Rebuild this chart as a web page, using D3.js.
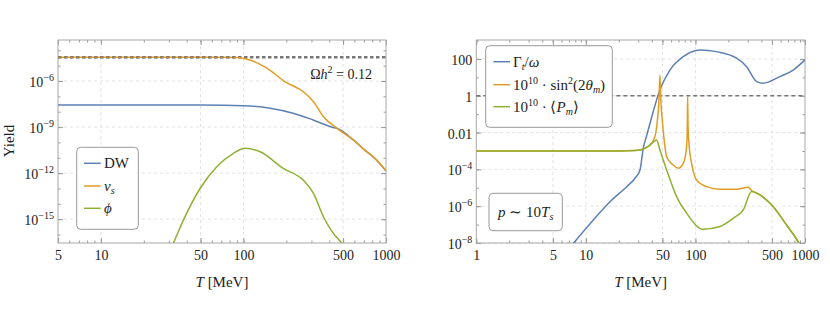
<!DOCTYPE html>
<html>
<head>
<meta charset="utf-8">
<script src="https://cdn.jsdelivr.net/npm/d3@7"></script>
<style>
  body { margin: 0; background: #fff; }
  svg text { font-family: "Liberation Serif", "Times New Roman", serif; }
</style>
</head>
<body>
<script>
// ---- data ----
// left panel: yield vs T [MeV]
var dwT   = [5, 20, 50, 100, 154, 223, 308, 425, 452, 590, 700, 850, 1000];
var dwY   = [2.75e-8, 2.75e-8, 2.7e-8, 2.45e-8, 1.66e-8, 7.9e-9, 2.9e-9, 9.5e-10, 8.3e-10, 1.45e-10, 3.5e-11, 7.9e-12, 1.4e-12];
var nusT  = [5, 60, 90, 111, 146, 196, 263, 310, 364, 452, 590, 700, 850, 1000];
var nusY  = [3.5e-5, 3.5e-5, 3.4e-5, 2.35e-5, 6.8e-6, 8.9e-7, 2.0e-7, 4.5e-8, 4.7e-9, 8.3e-10, 1.45e-10, 3.5e-11, 7.9e-12, 1.4e-12];
var phiT  = [28, 32.2, 37.9, 49.6, 65, 85, 102.6, 131, 190, 263, 310, 364, 427, 490, 560];
var phiY  = [1.6e-18, 2.7e-17, 8.7e-16, 1.0e-13, 2.6e-12, 1.95e-11, 4.2e-11, 2.45e-11, 2.05e-12, 3.5e-13, 4.8e-14, 1.45e-15, 1.2e-16, 2.7e-17, 4e-18];
var omegaLine = 3.5e-5;
var leftXTicks = [5, 10, 50, 100, 500, 1000];
var leftYTicks = [1e-6, 1e-9, 1e-12, 1e-15];
var leftNames = ["DW", "nu", "phi"];

// right panel: rates vs T [MeV]
var gamT  = [6.5, 7.68, 11.7, 16.6, 23.6, 28.1, 31.2, 33.4, 35.9, 38.5, 47.4, 58.5, 77.4, 110, 156, 238, 293, 362, 415, 590, 780, 1000];
var gamY  = [2.8e-9, 9.5e-9, 1.8e-7, 1.74e-6, 1.15e-5, 3.3e-5, 9.3e-5, 1.4e-3, 6.9e-3, 3.2e-2, 2.1, 25, 135, 310, 250, 110, 38, 5.9, 4.8, 11, 25, 89];
var sinT  = [1, 20, 28, 31.2, 38.5, 42.7, 45.0, 46.5, 47.4, 48.3, 49.8, 52.7, 54.6, 62.7, 69.7, 77.4, 83.1, 84.3, 84.9, 85.6, 87.8, 92.3, 102.5, 126.5, 167, 238, 303, 326, 388, 513, 679, 867, 1000];
var sinY  = [1e-3, 1e-3, 1.05e-3, 1.12e-3, 2.1e-3, 6e-3, 0.05, 0.6, 13.5, 0.6, 0.05, 1.7e-3, 4.9e-4, 1.74e-4, 1.15e-4, 2.1e-4, 1.7e-3, 0.025, 0.9, 0.025, 1.7e-3, 2.1e-4, 2.6e-5, 1.15e-5, 8.3e-6, 8.3e-6, 1.07e-5, 7.1e-6, 4.1e-6, 9.3e-7, 9.5e-8, 1.17e-8, 2.5e-9];
var pmT   = [1, 20, 28, 31.2, 38.5, 44.3, 47.4, 54.6, 67.3, 83.1, 118, 167, 221, 273, 326, 388, 513, 679, 867, 1000];
var pmY   = [1e-3, 1e-3, 1.05e-3, 1.12e-3, 2.1e-3, 4e-3, 1.12e-3, 9.3e-5, 3.3e-6, 4.2e-7, 5.5e-8, 7.8e-8, 2.2e-7, 6.2e-7, 6.2e-6, 4.1e-6, 9.3e-7, 9.5e-8, 1.17e-8, 2.5e-9];
var unitLine = 1;
var rightXTicks = [1, 5, 10, 50, 100, 500, 1000];
var rightYTicks = [100, 1, 0.01, 1e-4, 1e-6, 1e-8];

var colors = ["#5e81b5", "#e19c24", "#8fb032"];
var FONT = "Liberation Serif, Times New Roman, serif";

var W = 830, H = 317;
var svg = d3.select("body").append("svg").attr("width", W).attr("height", H)
  .attr("font-family", FONT);
svg.append("rect").attr("width", W).attr("height", H).attr("fill", "#fff");

function zip(a, b) { return a.map(function(t, i) { return [t, b[i]]; }); }

function minorTicks(lo, hi) {
  var out = [];
  for (var e = -20; e <= 4; e++) {
    for (var k = 1; k < 10; k++) {
      var v = k * Math.pow(10, e);
      if (v >= lo * 0.9999 && v <= hi * 1.0001) out.push(v);
    }
  }
  return out;
}
function decades(lo, hi) {
  var out = [];
  for (var e = -20; e <= 4; e++) { var v = Math.pow(10, e); if (v >= lo && v <= hi) out.push(v); }
  return out;
}

function powLabel(text, v) {
  var e = Math.round(Math.log10(v));
  text.text("10");
  text.append("tspan").attr("dy", -6).attr("font-size", 10).text(e < 0 ? "\u2212" + Math.abs(e) : e);
}

function panel(o) {
  var x = d3.scaleLog().domain(o.xd).range(o.xr);
  var y = d3.scaleLog().domain(o.yd).range([243, 40]);
  var g = svg.append("g");
  var id = "clip" + o.name;
  svg.append("clipPath").attr("id", id).append("rect")
    .attr("x", o.xr[0]).attr("y", 40).attr("width", o.xr[1] - o.xr[0]).attr("height", 203);

  // grid
  g.selectAll(".gx").data(o.gridX).enter().append("line")
    .attr("x1", function(d) { return x(d); }).attr("x2", function(d) { return x(d); })
    .attr("y1", 40).attr("y2", 243)
    .attr("stroke", "#e2e2e2").attr("stroke-dasharray", "3,3");
  g.selectAll(".gy").data(o.gridY).enter().append("line")
    .attr("y1", function(d) { return y(d); }).attr("y2", function(d) { return y(d); })
    .attr("x1", o.xr[0]).attr("x2", o.xr[1])
    .attr("stroke", "#e2e2e2").attr("stroke-dasharray", "3,3");

  // axes: major (with labels) and minor ticks on all four sides
  var xMinor = minorTicks(o.xd[0], o.xd[1]);
  var yMinor = decades(o.yd[0], o.yd[1]);
  function tickAxis(axis, pos, vals, size, lab) {
    var a = axis.tickValues(vals).tickSizeInner(-size).tickSizeOuter(0).tickPadding(4)
      .tickFormat(lab ? d3.format("~g") : "");
    var ag = g.append("g").attr("transform", pos).call(a);
    ag.attr("font-family", FONT).attr("font-size", 14);
    ag.select(".domain").remove();
    ag.selectAll("line").attr("stroke", "#999");
    ag.selectAll("text").attr("fill", "#222");
    return ag;
  }
  tickAxis(d3.axisBottom(x), "translate(0,243)", xMinor, 2.5, false);
  tickAxis(d3.axisTop(x), "translate(0,40)", xMinor, 2.5, false);
  tickAxis(d3.axisTop(x), "translate(0,40)", o.xTicks, 5, false);
  var bx = tickAxis(d3.axisBottom(x), "translate(0,243)", o.xTicks, 5, true);
  bx.selectAll("text").attr("dy", "0.95em");
  tickAxis(d3.axisLeft(y), "translate(" + o.xr[0] + ",0)", yMinor, 2.5, false);
  tickAxis(d3.axisRight(y), "translate(" + o.xr[1] + ",0)", yMinor, 2.5, false);
  tickAxis(d3.axisRight(y), "translate(" + o.xr[1] + ",0)", o.yTicks, 5, false);
  var ly = tickAxis(d3.axisLeft(y), "translate(" + o.xr[0] + ",0)", o.yTicks, 5, true);
  ly.selectAll("text").attr("dy", "0.4em").each(function(d) {
    var t = d3.select(this);
    if (d < 0.005) powLabel(t, d); else t.text(d3.format("~g")(d));
  });

  g.append("rect").attr("x", o.xr[0]).attr("y", 40)
    .attr("width", o.xr[1] - o.xr[0]).attr("height", 203)
    .attr("fill", "none").attr("stroke", "#a8a8a8").attr("stroke-width", 1);

  // reference line
  g.append("line").attr("x1", o.xr[0]).attr("x2", o.xr[1])
    .attr("y1", y(o.ref)).attr("y2", y(o.ref))
    .attr("stroke", "#777").attr("stroke-width", o.refW).attr("stroke-dasharray", o.refDash);

  var line = d3.line()
    .x(function(d) { return x(d[0]); })
    .y(function(d) { return y(d[1]); })
    .curve(d3.curveMonotoneX);
  var lg = g.append("g").attr("clip-path", "url(#" + id + ")");
  o.series.forEach(function(s, i) {
    lg.append("path").datum(zip(s[0], s[1]))
      .attr("d", line).attr("fill", "none")
      .attr("stroke", colors[i]).attr("stroke-width", 1.5);
  });
  if (o.name === "L") {
    // orange lies over the dotted line
    lg.append("line").attr("x1", o.xr[0]).attr("x2", x(90))
      .attr("y1", y(o.ref)).attr("y2", y(o.ref))
      .attr("stroke", "#777").attr("stroke-width", o.refW).attr("stroke-dasharray", o.refDash)
      .attr("opacity", 0.6);
  }

  // x label
  var xl = g.append("text").attr("x", (o.xr[0] + o.xr[1]) / 2).attr("y", 287)
    .attr("text-anchor", "middle").attr("font-size", 15).attr("fill", "#222");
  xl.append("tspan").attr("font-style", "italic").text("T");
  xl.append("tspan").text(" [MeV]");
  return { x: x, y: y, g: g };
}

var L = panel({
  name: "L", xd: [5, 1000], xr: [58, 386], yd: [Math.pow(10, -16.55), Math.pow(10, -3.33)],
  xTicks: leftXTicks, yTicks: leftYTicks, gridX: [10, 50, 100, 500], gridY: leftYTicks,
  ref: omegaLine, refW: 2.5, refDash: "3.5,2.5",
  series: [[dwT, dwY], [nusT, nusY], [phiT, phiY]]
});
var R = panel({
  name: "R", xd: [1, 1000], xr: [476.3, 805], yd: [1e-8, Math.pow(10, 3.03)],
  xTicks: rightXTicks, yTicks: rightYTicks, gridX: [5, 10, 50, 100, 500], gridY: rightYTicks,
  ref: unitLine, refW: 1.5, refDash: "4,3",
  series: [[gamT, gamY], [sinT, sinY], [pmT, pmY]]
});

// y label
svg.append("text").attr("transform", "translate(14,141) rotate(-90)")
  .attr("text-anchor", "middle").attr("font-size", 15).attr("fill", "#222").text("Yield");

// Omega h^2 label
var om = svg.append("text").attr("x", 372).attr("y", 79).attr("text-anchor", "end")
  .attr("font-size", 14).attr("fill", "#222");
om.append("tspan").text("\u03a9");
om.append("tspan").attr("font-style", "italic").text("h");
om.append("tspan").attr("dy", -6).attr("font-size", 10).text("2");
om.append("tspan").attr("dy", 6).text(" = 0.12");

// legends
function legendBox(x0, y0, w, h) {
  svg.append("rect").attr("x", x0).attr("y", y0).attr("width", w).attr("height", h)
    .attr("rx", 4).attr("fill", "#fff").attr("stroke", "#999");
}
legendBox(76.7, 147.3, 61.6, 82);
var leftRows = [163.3, 186, 208.3];
leftRows.forEach(function(yy, i) {
  svg.append("line").attr("x1", 84).attr("x2", 100.7).attr("y1", yy).attr("y2", yy)
    .attr("stroke", colors[i]).attr("stroke-width", 1.5);
  var t = svg.append("text").attr("x", 104).attr("y", yy + 5).attr("font-size", 15).attr("fill", "#222");
  if (leftNames[i] === "DW") t.text("DW");
  else if (leftNames[i] === "nu") {
    t.append("tspan").attr("font-style", "italic").text("\u03bd");
    t.append("tspan").attr("font-style", "italic").attr("font-size", 10).attr("dy", 3).text("s");
  } else t.append("tspan").attr("font-style", "italic").text("\u03d5");
});

legendBox(485.7, 45.7, 126.6, 81.6);
var rightRows = [61.7, 84.7, 106.7];
rightRows.forEach(function(yy, i) {
  svg.append("line").attr("x1", 493.3).attr("x2", 510).attr("y1", yy).attr("y2", yy)
    .attr("stroke", colors[i]).attr("stroke-width", 1.5);
});
var r1 = svg.append("text").attr("x", 513).attr("y", rightRows[0] + 5).attr("font-size", 15).attr("fill", "#222");
r1.append("tspan").text("\u0393");
r1.append("tspan").attr("font-style", "italic").attr("font-size", 10).attr("dy", 3).text("t");
r1.append("tspan").attr("dy", -3).text("/");
r1.append("tspan").attr("font-style", "italic").text("\u03c9");
var r2 = svg.append("text").attr("x", 513).attr("y", rightRows[1] + 5).attr("font-size", 15).attr("fill", "#222");
r2.append("tspan").text("10");
r2.append("tspan").attr("font-size", 10).attr("dy", -6).text("10");
r2.append("tspan").attr("dy", 6).text(" \u00b7 sin");
r2.append("tspan").attr("font-size", 10).attr("dy", -6).text("2");
r2.append("tspan").attr("dy", 6).text("(2");
r2.append("tspan").attr("font-style", "italic").text("\u03b8");
r2.append("tspan").attr("font-style", "italic").attr("font-size", 10).attr("dy", 3).text("m");
r2.append("tspan").attr("dy", -3).text(")");
var r3 = svg.append("text").attr("x", 513).attr("y", rightRows[2] + 5).attr("font-size", 15).attr("fill", "#222");
r3.append("tspan").text("10");
r3.append("tspan").attr("font-size", 10).attr("dy", -6).text("10");
r3.append("tspan").attr("dy", 6).text(" \u00b7 \u27e8");
r3.append("tspan").attr("font-style", "italic").text("P");
r3.append("tspan").attr("font-style", "italic").attr("font-size", 10).attr("dy", 3).text("m");
r3.append("tspan").attr("dy", -3).text("\u27e9");

// p ~ 10 T_s box
legendBox(489, 193.3, 73.3, 37.4);
var pt = svg.append("text").attr("x", 525.7).attr("y", 217).attr("text-anchor", "middle")
  .attr("font-size", 15).attr("fill", "#222");
pt.append("tspan").attr("font-style", "italic").text("p");
pt.append("tspan").text(" \u223c 10");
pt.append("tspan").attr("font-style", "italic").text("T");
pt.append("tspan").attr("font-style", "italic").attr("font-size", 10).attr("dy", 3).text("s");
</script>
</body>
</html>
